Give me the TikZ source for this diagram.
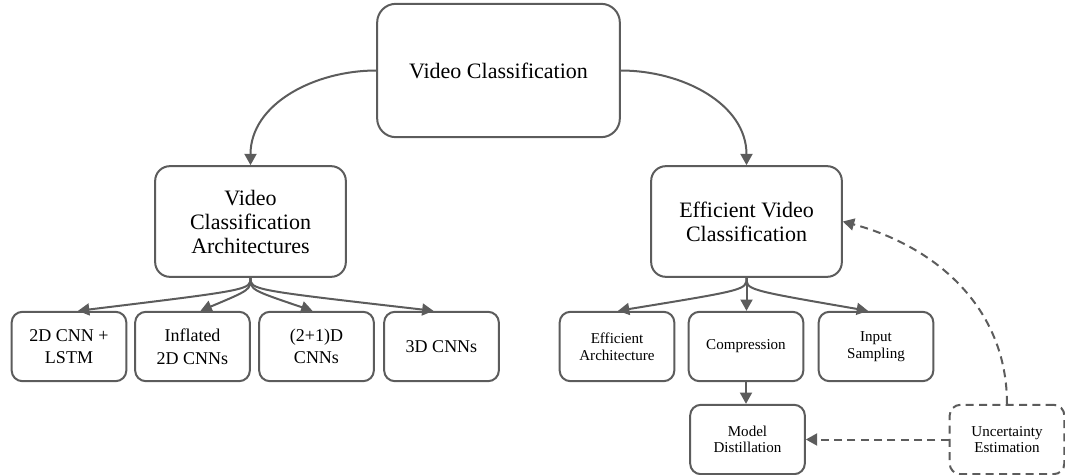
\documentclass[tikz,border=0pt]{standalone}
\usepackage{fontspec}
\setmainfont{Liberation Serif}
\usetikzlibrary{arrows.meta,calc}
\definecolor{edge}{HTML}{5C5C5C}
\tikzset{
  box/.style={draw=edge, line width=1.5pt, rounded corners=11pt, align=center,
    inner sep=2pt, fill=white},
  bigbox/.style={box, minimum width=143pt, minimum height=83pt,
    font=\fontsize{16.5}{18}\selectfont},
  leaf/.style={box, rounded corners=8pt, minimum width=86pt, minimum height=52pt,
    font=\fontsize{13.5}{17}\selectfont},
  smallleaf/.style={leaf, font=\fontsize{11.3}{12.5}\selectfont},
  arr/.style={draw=edge, line width=1.5pt, -{Triangle[length=8.5pt,width=9pt]}},
  darr/.style={arr, dash pattern=on 6pt off 4pt},
}
\begin{document}
\begin{tikzpicture}[x=0.75pt, y=-0.75pt]
\useasboundingbox (0,0) rectangle (1065,475);

% root
\node[box, rounded corners=14pt, minimum width=182pt, minimum height=100pt,
      font=\fontsize{16.5}{18}\selectfont] (vc) at (498.5,70.5) {Video Classification};

% second level
\node[bigbox] (vca) at (250.5,221.5) {Video\\Classification\\Architectures};
\node[bigbox] (evc) at (746.5,221.5) {Efficient Video\\Classification};

% architectures
\node[leaf] (lstm) at (69,346.5)    {2D CNN +\\LSTM};
\node[leaf] (infl) at (192.5,346.5) {Inflated\\2D CNNs};
\node[leaf] (r21d) at (316.5,346.5) {(2+1)D\\CNNs};
\node[leaf] (c3d)  at (441.5,346.5) {3D CNNs};

% efficiency branches
\node[smallleaf] (earch) at (617,346.5) {Efficient\\Architecture};
\node[smallleaf] (comp)  at (746,346.5) {Compression};
\node[smallleaf] (insam) at (876,346.5) {Input\\Sampling};
\node[smallleaf] (dist)  at (747.5,439.5) {Model\\Distillation};
\node[smallleaf, dash pattern=on 6pt off 4pt] (unc) at (1007,439.5) {Uncertainty\\Estimation};

% root edges
\draw[arr] (vc.west) to[out=180, in=90] (vca.north);
\draw[arr] (vc.east) to[out=0, in=90] (evc.north);

% fan-out edges: leave straight down, then run almost straight to each child
\foreach \t/\dx in {lstm/9, infl/8, r21d/-4, c3d/-8}
  \draw[arr] (vca.south) .. controls +(0,12) .. ($(\t.north)+(\dx,0)$);
\foreach \t/\dx in {earch/1, insam/-8}
  \draw[arr] (evc.south) .. controls +(0,12) .. ($(\t.north)+(\dx,0)$);
\draw[arr] (evc.south) -- (evc.south |- comp.north);
\draw[arr] (comp.south) -- (comp.south |- dist.north);

% uncertainty edges
\draw[darr] (unc.north) to[out=90, in=-15] (evc.east);
\draw[darr] (unc.west) -- (dist.east);
\end{tikzpicture}
\end{document}
